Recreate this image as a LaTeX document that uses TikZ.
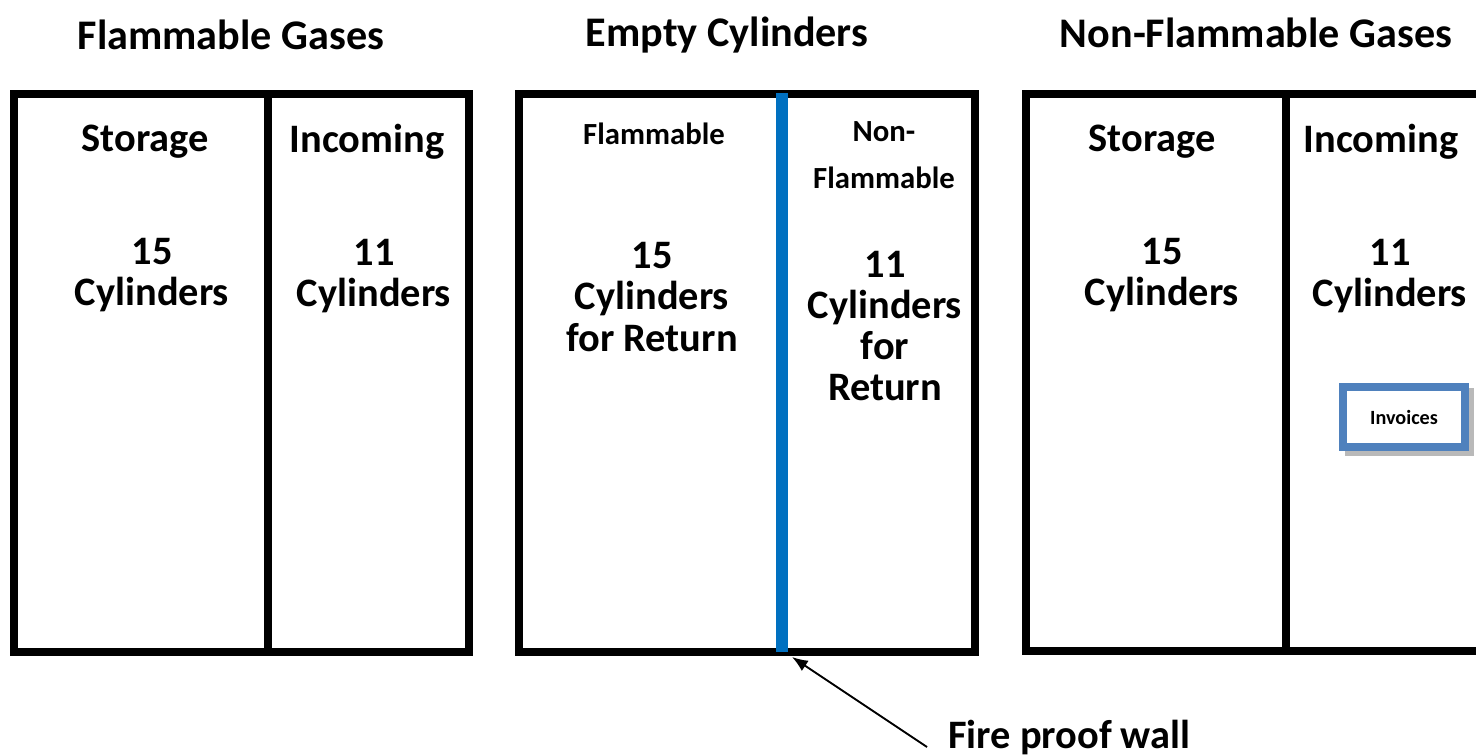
\documentclass[tikz,border=0pt]{standalone}
\usepackage{fontspec}
\setmainfont{Carlito}
\usepackage{tikz}
\usetikzlibrary{arrows}
\usetikzlibrary{arrows.meta}
\usetikzlibrary{shadows}

\definecolor{wallblue}{HTML}{0070C0}
\definecolor{invblue}{HTML}{4F81BD}

\tikzset{
  room/.style={line width=4.5pt, line join=miter},
  title/.style={font=\bfseries\fontsize{24}{28}\selectfont, align=center},
  lbl/.style={font=\bfseries\fontsize{23}{23.5}\selectfont, align=center},
  small/.style={font=\bfseries\fontsize{17.5}{27}\selectfont, align=center},
  invbox/.style={draw=invblue, line width=4.5pt, fill=white,
    minimum width=69pt, minimum height=34pt,
    font=\bfseries\fontsize{11.5}{13}\selectfont,
    drop shadow={shadow xshift=3pt, shadow yshift=-3pt,
      draw=gray!55, fill=gray!55, line width=4.5pt, opacity=1}}
}

\begin{document}
\begin{tikzpicture}[x=0.02cm, y=-0.02cm]
      \useasboundingbox (0, 0) rectangle (1476, 756);

      % the three rooms
      \draw[room] (14, 94) rectangle (469, 652);
      \draw[room] (268, 94) -- (268, 652);
      \draw[room] (519, 94) rectangle (975, 652);
      \draw[room] (1476, 94) -| (1026, 651) -- (1476, 651);
      \draw[room] (1286, 94) -- (1286, 651);
      \draw[wallblue, line width=6.5pt] (782, 93) -- (782, 652) coordinate (wallfoot);

      \node[title] (flamgas) at (231, 35) {Flammable Gases};
      \node[title] (empty) at (727, 35) {Empty Cylinders};
      \node[title] (nonflamgas) at (1256, 33) {Non-Flammable Gases};

      \node[lbl] (stor1) at (145, 142) {Storage};
      \node[lbl] (cyl1) at (152, 275) {15\\Cylinders};
      \node[lbl] (inc1) at (367, 142) {Incoming};
      \node[lbl] (cyl2) at (374, 276) {11\\Cylinders};

      \node[small] (flam) at (654, 134) {Flammable};
      \node[small] (nonflam) at (884, 155) {Non-\\Flammable};
      \node[lbl] (ret1) at (652, 297) {15\\Cylinders\\for Return};
      \node[lbl] (ret2) at (885, 326) {11\\Cylinders\\for\\Return};

      \node[lbl] (stor2) at (1152, 142) {Storage};
      \node[lbl] (cyl3) at (1162, 275) {15\\Cylinders};
      \node[lbl] (inc2) at (1381, 142) {Incoming};
      \node[lbl] (cyl4) at (1390, 276) {11\\Cylinders};

      \node[invbox] (inv) at (1404, 417) {Invoices};

      \node[lbl, anchor=west] (fire) at (942, 737) {Fire proof wall};
      \draw[-{Latex[length=9pt, width=7pt]}, line width=1.1pt] (927, 747) coordinate (firetail) -- ([shift={(10, 5)}]wallfoot);
    \end{tikzpicture}
\end{document}
